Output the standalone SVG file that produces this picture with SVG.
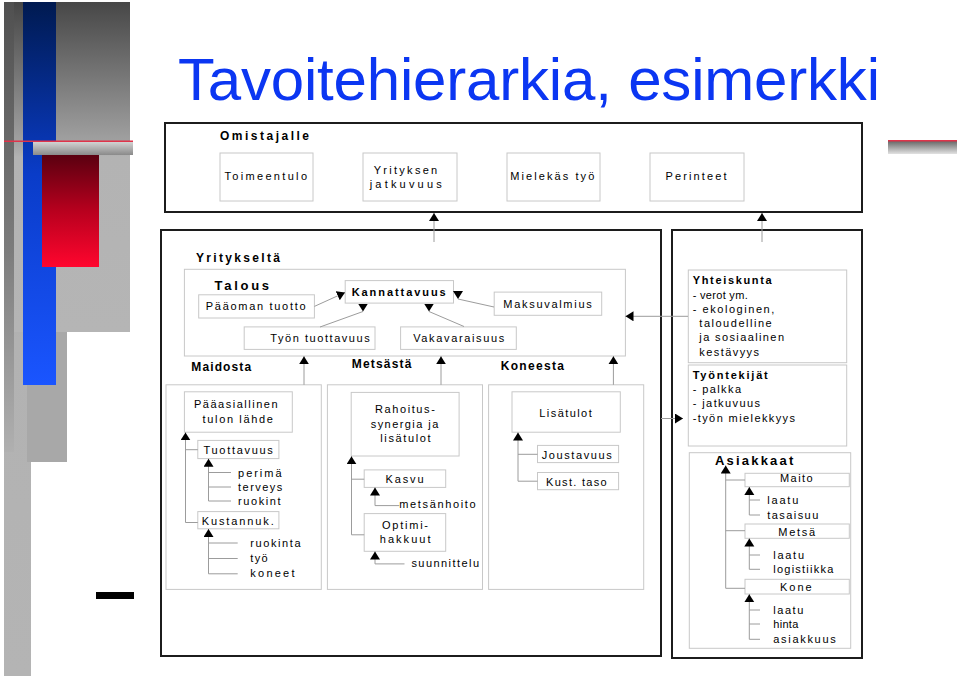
<svg xmlns="http://www.w3.org/2000/svg" width="960" height="680" viewBox="0 0 960 680">
<defs>
<linearGradient id="gStrip" x1="0" y1="0" x2="0" y2="1"><stop offset="0" stop-color="#5c5c5c"/><stop offset="0.25" stop-color="#9a9a9a"/><stop offset="0.5" stop-color="#b2b2b2"/><stop offset="1" stop-color="#b4b4b4"/></linearGradient>
<linearGradient id="gDark" x1="0" y1="0" x2="0" y2="1"><stop offset="0" stop-color="#505050"/><stop offset="0.55" stop-color="#7c7c7c"/><stop offset="1" stop-color="#b0b0b0"/></linearGradient>
<linearGradient id="gBlock" x1="0" y1="0" x2="0" y2="1"><stop offset="0" stop-color="#474747"/><stop offset="0.42" stop-color="#a0a0a0"/><stop offset="0.47" stop-color="#b3b3b3"/><stop offset="1" stop-color="#b5b5b5"/></linearGradient>
<linearGradient id="gBlue" x1="0" y1="0" x2="0" y2="1"><stop offset="0" stop-color="#001a50"/><stop offset="0.45" stop-color="#0a3cc8"/><stop offset="1" stop-color="#1a55ff"/></linearGradient>
<linearGradient id="gRed" x1="0" y1="0" x2="0" y2="1"><stop offset="0" stop-color="#5a0010"/><stop offset="0.5" stop-color="#b8001e"/><stop offset="1" stop-color="#ff062e"/></linearGradient>
<linearGradient id="gBarL" x1="0" y1="0" x2="0" y2="1"><stop offset="0" stop-color="#d2d2d2"/><stop offset="1" stop-color="#8a8a8a"/></linearGradient>
<linearGradient id="gBarR" x1="0" y1="0" x2="0" y2="1"><stop offset="0" stop-color="#666666"/><stop offset="1" stop-color="#e2e2e2"/></linearGradient>
<marker id="ah" markerUnits="userSpaceOnUse" viewBox="0 0 9 11" markerWidth="9" markerHeight="11" refX="8" refY="5" orient="auto"><path d="M0,0 L8,5 L0,10 z" fill="#000"/></marker>
<marker id="ahd" markerUnits="userSpaceOnUse" viewBox="0 0 9 11" markerWidth="9" markerHeight="11" refX="8" refY="5" orient="90"><path d="M0,0 L8,5 L0,10 z" fill="#000"/></marker>
</defs>
<style>
.t{font-family:"Liberation Sans",Arial,Helvetica,sans-serif;font-size:11px;fill:#000}
.b{font-weight:bold;font-size:12px}
.bx{fill:#fff;stroke:#c8c8c8;stroke-width:1}
.fr{fill:#fff;stroke:#1c1c1c;stroke-width:2}
.ln{fill:none;stroke:#9c9c9c;stroke-width:1}
.ttl{font-family:"Liberation Sans",Arial,sans-serif;font-size:60px;fill:#0b36f2}
</style>
<rect width="960" height="680" fill="#fff"/>

<g id="decoration">
<rect x="4" y="2" width="27" height="674" fill="url(#gStrip)"/>
<rect x="4" y="2" width="10" height="450" fill="url(#gDark)"/>
<rect x="27" y="2" width="40" height="460" fill="#a8a8a8"/>
<rect x="14" y="2" width="116" height="330" fill="url(#gBlock)"/>
<rect x="23" y="2" width="33" height="383" fill="url(#gBlue)"/>
<rect x="33" y="142" width="100" height="13" fill="url(#gBarL)"/>
<rect x="4" y="140.5" width="129" height="1.5" fill="#e0334a"/>
<rect x="42" y="155" width="57" height="112" fill="url(#gRed)"/>
<rect x="888" y="141" width="69" height="13" fill="url(#gBarR)"/>
<rect x="888" y="140" width="69" height="1.5" fill="#e0334a"/>
<rect x="96" y="592" width="38" height="7" fill="#000"/>
</g>

<text class="ttl" x="178" y="100" textLength="702" lengthAdjust="spacing">Tavoitehierarkia, esimerkki</text>

<g id="omistajalle">
<rect class="fr" x="165" y="123" width="697" height="89"/>
<text class="t b" x="220" y="140" textLength="89" lengthAdjust="spacing">Omistajalle</text>
</g>
<g id="toimeentulo"><rect class="bx" x="220" y="153" width="93" height="48"/><text class="t" x="224.4" y="180" textLength="82.6" lengthAdjust="spacing">Toimeentulo</text></g>
<g id="yrityksen-jatkuvuus"><rect class="bx" x="363" y="153" width="94" height="48"/><text class="t" x="373.7" y="173.5" textLength="63.5" lengthAdjust="spacing">Yrityksen</text><text class="t" x="369.7" y="188" textLength="72" lengthAdjust="spacing">jatkuvuus</text></g>
<g id="mielekas-tyo"><rect class="bx" x="507" y="153" width="93" height="48"/><text class="t" x="510.3" y="180" textLength="84" lengthAdjust="spacing">Mielekäs työ</text></g>
<g id="perinteet"><rect class="bx" x="650" y="153" width="94" height="48"/><text class="t" x="665.5" y="180" textLength="61" lengthAdjust="spacing">Perinteet</text></g>

<g id="yritykselta">
<rect class="fr" x="161" y="230" width="500" height="426"/>
<text class="t b" x="196" y="262" textLength="84" lengthAdjust="spacing">Yritykseltä</text>
</g>
<g id="talous">
<rect class="bx" x="184.4" y="269.3" width="441" height="86.7"/>
<text class="t b" x="214.5" y="289.5" style="font-size:13px" textLength="54.6" lengthAdjust="spacing">Talous</text>
</g>
<g id="paaoman-tuotto"><rect class="bx" x="198.7" y="294.8" width="115.7" height="23.2"/><text class="t" x="205.8" y="309.7" textLength="99.7" lengthAdjust="spacing">Pääoman tuotto</text></g>
<g id="kannattavuus"><rect class="bx" x="345.2" y="280.6" width="108.3" height="22.5"/><text class="t b" x="351.7" y="295.5" style="font-size:11px" textLength="94" lengthAdjust="spacing">Kannattavuus</text></g>
<g id="maksuvalmius"><rect class="bx" x="494.2" y="292.1" width="107.5" height="23.2"/><text class="t" x="503.3" y="307.5" textLength="88.4" lengthAdjust="spacing">Maksuvalmius</text></g>
<g id="tyon-tuottavuus"><rect class="bx" x="244.2" y="326.9" width="130.8" height="22.5"/><text class="t" x="270.3" y="342" textLength="99.4" lengthAdjust="spacing">Työn tuottavuus</text></g>
<g id="vakavaraisuus"><rect class="bx" x="400.6" y="326.9" width="115.7" height="22.5"/><text class="t" x="413.2" y="342" textLength="91" lengthAdjust="spacing">Vakavaraisuus</text></g>

<g id="maidosta">
<text class="t b" x="191.3" y="370.5" textLength="59.8" lengthAdjust="spacing">Maidosta</text>
<rect class="bx" x="166" y="384.8" width="155.3" height="204.6"/>
</g>
<g id="paaasiallinen"><rect class="bx" x="184.4" y="391.8" width="107.9" height="40.4"/><text class="t" x="193.9" y="408.4" textLength="83.7" lengthAdjust="spacing">Pääasiallinen</text><text class="t" x="202.6" y="423" textLength="70.2" lengthAdjust="spacing">tulon lähde</text></g>
<g id="tuottavuus"><rect class="bx" x="197.8" y="440.4" width="81.1" height="18.2"/><text class="t" x="203.5" y="453.7" textLength="69.3" lengthAdjust="spacing">Tuottavuus</text></g>
<g id="tuottavuus-tekijat"><text class="t" x="238.1" y="476.5" textLength="43.4" lengthAdjust="spacing">perimä</text><text class="t" x="238" y="491" textLength="44.3" lengthAdjust="spacing">terveys</text><text class="t" x="238" y="505" textLength="42.6" lengthAdjust="spacing">ruokint</text></g>
<g id="kustannuk"><rect class="bx" x="197.8" y="511.6" width="81.1" height="17.2"/><text class="t" x="201.7" y="524.5" textLength="72" lengthAdjust="spacing">Kustannuk.</text></g>
<g id="kustannus-tekijat"><text class="t" x="250.3" y="547.4" textLength="50.2" lengthAdjust="spacing">ruokinta</text><text class="t" x="250.3" y="562" textLength="17.3" lengthAdjust="spacing">työ</text><text class="t" x="250.3" y="576.6" textLength="44.2" lengthAdjust="spacing">koneet</text></g>

<g id="metsasta">
<text class="t b" x="351.7" y="367.5" textLength="59.8" lengthAdjust="spacing">Metsästä</text>
<rect class="bx" x="327.4" y="384.8" width="155.1" height="204.6"/>
</g>
<g id="rahoitus"><rect class="bx" x="351.2" y="392.4" width="107.9" height="63.6"/><text class="t" x="375" y="413" textLength="59.8" lengthAdjust="spacing">Rahoitus-</text><text class="t" x="370.7" y="427.5" textLength="67.6" lengthAdjust="spacing">synergia ja</text><text class="t" x="380.3" y="441.8" textLength="50.2" lengthAdjust="spacing">lisätulot</text></g>
<g id="kasvu"><rect class="bx" x="364.2" y="469.9" width="81.5" height="17.5"/><text class="t" x="385.5" y="483.2" textLength="38.1" lengthAdjust="spacing">Kasvu</text></g>
<g id="metsanhoito"><text class="t" x="399.3" y="508.3" textLength="76.3" lengthAdjust="spacing">metsänhoito</text></g>
<g id="optimihakkuut"><rect class="bx" x="364.2" y="513.6" width="81.5" height="37.7"/><text class="t" x="382" y="528.8" textLength="46" lengthAdjust="spacing">Optimi-</text><text class="t" x="379.8" y="543" textLength="50.7" lengthAdjust="spacing">hakkuut</text></g>
<g id="suunnittelu"><text class="t" x="411.4" y="567.2" textLength="67.6" lengthAdjust="spacing">suunnittelu</text></g>

<g id="koneesta">
<text class="t b" x="500.7" y="370" textLength="63.3" lengthAdjust="spacing">Koneesta</text>
<rect class="bx" x="488.6" y="384.8" width="155.1" height="204.6"/>
</g>
<g id="lisatulot"><rect class="bx" x="512" y="391.8" width="108.3" height="40.4"/><text class="t" x="539.3" y="416.5" textLength="52.4" lengthAdjust="spacing">Lisätulot</text></g>
<g id="joustavuus"><rect class="bx" x="537.5" y="445.4" width="81.1" height="17.2"/><text class="t" x="541.7" y="458.5" textLength="70" lengthAdjust="spacing">Joustavuus</text></g>
<g id="kust-taso"><rect class="bx" x="537.5" y="472.5" width="81.1" height="17.2"/><text class="t" x="546" y="486" textLength="60.7" lengthAdjust="spacing">Kust. taso</text></g>

<g id="sidosryhmat"><rect class="fr" x="672" y="230" width="190" height="428"/></g>
<g id="yhteiskunta"><rect class="bx" x="688.3" y="270" width="158.4" height="92.7"/>
<text class="t b" x="692.7" y="284" style="font-size:11px" textLength="79" lengthAdjust="spacing">Yhteiskunta</text>
<text class="t" x="692.7" y="299" textLength="55" lengthAdjust="spacing">- verot ym.</text>
<text class="t" x="692.7" y="313" textLength="81.6" lengthAdjust="spacing">- ekologinen,</text>
<text class="t" x="699.3" y="327.3" textLength="72.4" lengthAdjust="spacing">taloudelline</text>
<text class="t" x="699.3" y="341.3" textLength="84.7" lengthAdjust="spacing">ja sosiaalinen</text>
<text class="t" x="699.3" y="356.3" textLength="59.7" lengthAdjust="spacing">kestävyys</text></g>
<g id="tyontekijat"><rect class="bx" x="688.3" y="365" width="158.4" height="81"/>
<text class="t b" x="692.7" y="379" style="font-size:11px" textLength="75" lengthAdjust="spacing">Työntekijät</text>
<text class="t" x="692.7" y="393" textLength="48.3" lengthAdjust="spacing">- palkka</text>
<text class="t" x="692.7" y="407.3" textLength="67.3" lengthAdjust="spacing">- jatkuvuus</text>
<text class="t" x="692.7" y="421.7" textLength="102.3" lengthAdjust="spacing">-työn mielekkyys</text></g>
<g id="asiakkaat"><rect class="bx" x="689.3" y="452.7" width="161.4" height="195.6"/>
<text class="t b" x="715" y="465" style="font-size:13px" textLength="78.3" lengthAdjust="spacing">Asiakkaat</text></g>
<g id="maito"><rect class="bx" x="745" y="473.3" width="104.3" height="13.4"/><text class="t" x="780" y="482.3" textLength="32.7" lengthAdjust="spacing">Maito</text></g>
<g id="maito-tekijat"><text class="t" x="767.3" y="504" textLength="31" lengthAdjust="spacing">laatu</text><text class="t" x="767.3" y="519" textLength="51" lengthAdjust="spacing">tasaisuu</text></g>
<g id="metsa"><rect class="bx" x="745" y="524" width="104.3" height="14.3"/><text class="t" x="778.3" y="535.7" textLength="36.7" lengthAdjust="spacing">Metsä</text></g>
<g id="metsa-tekijat"><text class="t" x="773.3" y="559" textLength="30.7" lengthAdjust="spacing">laatu</text><text class="t" x="773.3" y="573.3" textLength="60" lengthAdjust="spacing">logistiikka</text></g>
<g id="kone"><rect class="bx" x="745" y="579.3" width="104.3" height="14.7"/><text class="t" x="780" y="590.7" textLength="31.7" lengthAdjust="spacing">Kone</text></g>
<g id="kone-tekijat"><text class="t" x="773.3" y="614" textLength="30" lengthAdjust="spacing">laatu</text><text class="t" x="773.3" y="628" textLength="25" lengthAdjust="spacing">hinta</text><text class="t" x="773.3" y="643" textLength="62.4" lengthAdjust="spacing">asiakkuus</text></g>

<g id="connectors">
<path class="ln" d="M434,242 V213" marker-end="url(#ah)"/>
<path class="ln" d="M762,242 V213" marker-end="url(#ah)"/>
<path class="ln" d="M314.4,306.4 L345,292.5" marker-end="url(#ah)"/>
<path class="ln" d="M320,327 L363,311.5" marker-end="url(#ahd)"/>
<path class="ln" d="M464,326.5 L429,311.5" marker-end="url(#ahd)"/>
<path class="ln" d="M494,307 L458,299" marker-end="url(#ahd)"/>
<path class="ln" d="M688,316.3 H625.5" marker-end="url(#ah)"/>
<path class="ln" d="M661,418.5 H683" marker-end="url(#ah)"/>
<path class="ln" d="M304,384.8 V356.3" marker-end="url(#ah)"/>
<path class="ln" d="M441,384.8 V356.3" marker-end="url(#ah)"/>
<path class="ln" d="M613.4,384.8 V356.3" marker-end="url(#ah)"/>
<path class="ln" d="M197.8,522.5 H185.5 V432.4" marker-end="url(#ah)"/>
<path class="ln" d="M185.5,449.7 H197.8"/>
<path class="ln" d="M231,501 H208.5 V458.8" marker-end="url(#ah)"/>
<path class="ln" d="M208.5,472.5 H231 M208.5,487 H231"/>
<path class="ln" d="M237.7,573.8 H208.5 V529" marker-end="url(#ah)"/>
<path class="ln" d="M208.5,543 H237.7 M208.5,558.5 H237.7"/>
<path class="ln" d="M364.2,534.8 H351.5 V456.3" marker-end="url(#ah)"/>
<path class="ln" d="M351.5,479.2 H364.2"/>
<path class="ln" d="M399.3,505.6 H375 V487.6" marker-end="url(#ah)"/>
<path class="ln" d="M404.5,563.9 H375 V551.5" marker-end="url(#ah)"/>
<path class="ln" d="M537.5,481.2 H518 V432.5" marker-end="url(#ah)"/>
<path class="ln" d="M518,454.3 H537.5"/>
<path class="ln" d="M745,588.3 H725.7 V465.5" marker-end="url(#ah)"/>
<path class="ln" d="M725.7,480 H745 M725.7,530.7 H745"/>
<path class="ln" d="M760,515 H749.3 V487" marker-end="url(#ah)"/>
<path class="ln" d="M749.3,500 H760"/>
<path class="ln" d="M760,569.3 H749.3 V538.5" marker-end="url(#ah)"/>
<path class="ln" d="M749.3,555 H760"/>
<path class="ln" d="M760,639.3 H749.3 V594.2" marker-end="url(#ah)"/>
<path class="ln" d="M749.3,610 H760 M749.3,624 H760"/>
</g>
</svg>
